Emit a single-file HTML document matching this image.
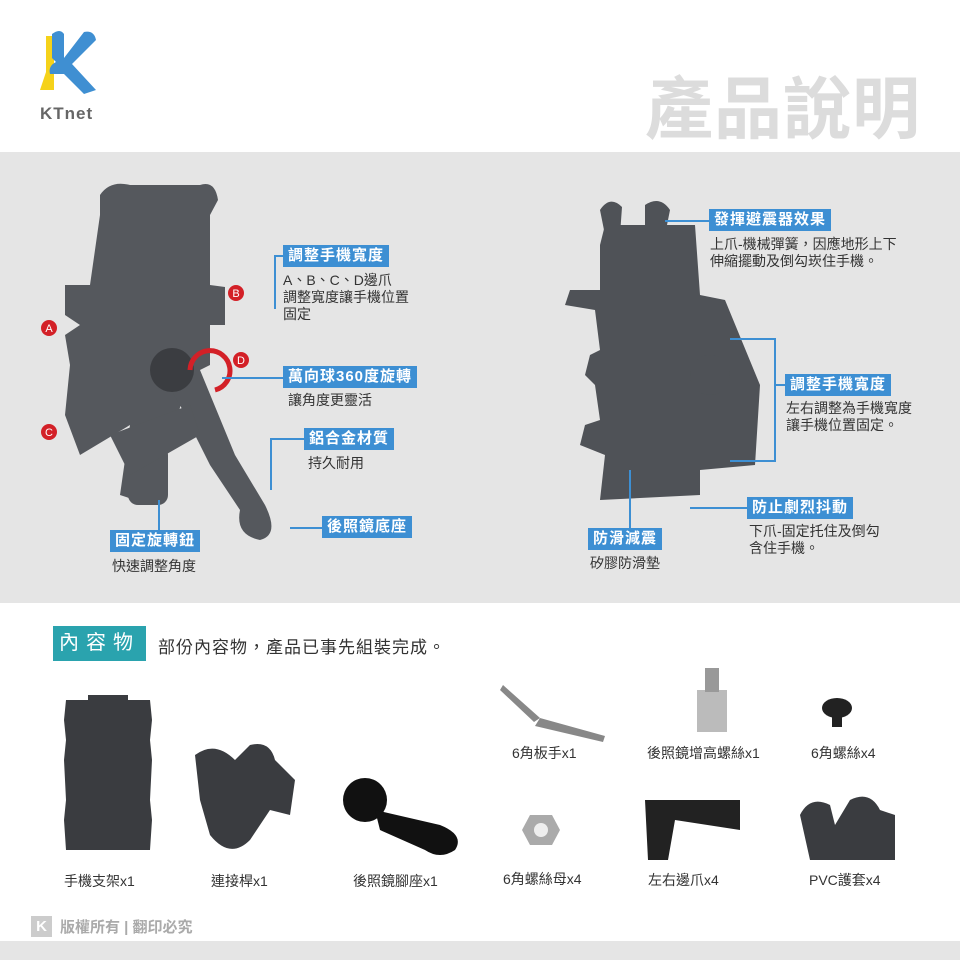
<!DOCTYPE html>
<html><head><meta charset="utf-8"><style>
body{margin:0;width:960px;height:960px;position:relative;background:#fff;overflow:hidden;font-family:"Liberation Sans","Noto Sans CJK TC",sans-serif;color:#333}
.a{position:absolute}
.lb{position:absolute;background:#3d8fd3;color:#fff;font-size:15px;font-weight:bold;padding:1px 5px;line-height:20px;white-space:nowrap;letter-spacing:1px}
.t{position:absolute;font-size:14px;line-height:17px;color:#333;white-space:nowrap}
.ln{position:absolute;border-color:#3d8fd3;border-style:solid;border-width:0}
.cap{position:absolute;font-size:14px;color:#333;white-space:nowrap}
</style></head><body>
<svg class="a" style="left:36px;top:28px" width="64" height="70" viewBox="0 0 64 70">
<path d="M10 8 L18 8 L18 62 L4 62 L10 44 Z" fill="#f5d21a"/>
<path d="M16 6 Q24 0 28 6 L28 30 L48 4 Q58 2 60 12 L36 36 L60 62 L48 66 L28 46 L14 46 Q12 38 20 34 L16 30 Z" fill="#3f8fd2"/>
</svg>
<div class="a" style="left:40px;top:104px;font-size:17px;font-weight:bold;color:#666;letter-spacing:1px">KTnet</div>
<div class="a" style="left:645px;top:70px;font-size:68px;font-weight:bold;color:#dcdcdc;letter-spacing:1px;line-height:80px">產品說明</div>
<div class="a" style="left:0;top:152px;width:960px;height:451px;background:#e5e5e5"></div>
<svg class="a" style="left:40px;top:175px" width="260" height="370" viewBox="0 0 260 370">
<g fill="#55585d">
<path d="M60 20 Q70 5 90 10 L160 10 Q175 5 178 25 L170 40 L170 110 L185 112 L185 150 L170 150 L170 190 L150 200 L110 330 L80 320 L90 250 L40 280 L25 240 L30 190 L25 160 L40 150 L25 140 L25 110 L50 110 L60 40 Z"/>
<rect x="88" y="270" width="40" height="60" rx="10"/>
<path d="M110 180 Q140 170 160 195 L195 280 L225 330 Q240 360 220 365 Q195 360 200 335 L170 290 L140 230 Z"/>
<circle cx="132" cy="195" r="22" fill="#3b3d41"/>
<path d="M70 260 L150 230 L160 260 L90 300 Z"/>
</g>
<g fill="#d32027"><circle cx="9" cy="153" r="8"/><circle cx="196" cy="118" r="8"/><circle cx="9" cy="257" r="8"/><circle cx="201" cy="185" r="8"/></g>
<g fill="#fff" font-size="11" text-anchor="middle"><text x="9" y="157">A</text><text x="196" y="122">B</text><text x="9" y="261">C</text><text x="201" y="189">D</text></g>
<path d="M150 195 a20 20 0 1 1 25 20" stroke="#d32027" stroke-width="5" fill="none"/>
</svg>
<div class="lb" style="left:283px;top:245px">調整手機寬度</div>
<div class="ln" style="left:274px;top:255px;width:9px;height:52px;border-left-width:2px;border-top-width:2px"></div>
<div class="t" style="left:283px;top:272px">A、B、C、D邊爪<br>調整寬度讓手機位置<br>固定</div>
<div class="lb" style="left:283px;top:366px">萬向球360度旋轉</div>
<div class="ln" style="left:222px;top:377px;width:61px;border-top-width:2px"></div>
<div class="t" style="left:288px;top:392px">讓角度更靈活</div>
<div class="lb" style="left:304px;top:428px">鋁合金材質</div>
<div class="ln" style="left:270px;top:438px;width:34px;height:50px;border-left-width:2px;border-top-width:2px"></div>
<div class="t" style="left:308px;top:455px">持久耐用</div>
<div class="lb" style="left:322px;top:516px">後照鏡底座</div>
<div class="ln" style="left:290px;top:527px;width:32px;border-top-width:2px"></div>
<div class="lb" style="left:110px;top:530px">固定旋轉鈕</div>
<div class="ln" style="left:158px;top:500px;height:30px;border-left-width:2px"></div>
<div class="t" style="left:112px;top:558px">快速調整角度</div>
<svg class="a" style="left:560px;top:195px" width="220" height="320" viewBox="0 0 220 320">
<g fill="#4f5257">
<path d="M45 30 L135 30 L140 100 L165 105 L200 190 L195 270 L140 275 L140 300 L40 305 L45 260 L20 250 L25 230 L40 225 L35 190 L25 180 L30 160 L40 155 L35 115 L5 110 L10 95 L40 95 L40 50 Z"/>
<path d="M40 15 Q50 0 62 12 L60 40 L45 40 Z M85 10 Q100 0 110 15 L105 40 L85 40 Z"/>
<circle cx="150" cy="180" r="20"/>
</g>
</svg>
<div class="lb" style="left:709px;top:209px">發揮避震器效果</div>
<div class="ln" style="left:665px;top:220px;width:44px;border-top-width:2px"></div>
<div class="t" style="left:710px;top:236px">上爪-機械彈簧，因應地形上下<br>伸縮擺動及倒勾崁住手機。</div>
<div class="lb" style="left:785px;top:374px">調整手機寬度</div>
<div class="ln" style="left:730px;top:338px;width:44px;height:120px;border-right-width:2px;border-top-width:2px;border-bottom-width:2px"></div>
<div class="ln" style="left:774px;top:384px;width:11px;border-top-width:2px"></div>
<div class="t" style="left:786px;top:400px">左右調整為手機寬度<br>讓手機位置固定。</div>
<div class="lb" style="left:747px;top:497px">防止劇烈抖動</div>
<div class="ln" style="left:690px;top:507px;width:57px;border-top-width:2px"></div>
<div class="t" style="left:749px;top:523px">下爪-固定托住及倒勾<br>含住手機。</div>
<div class="lb" style="left:588px;top:528px">防滑減震</div>
<div class="ln" style="left:629px;top:470px;height:58px;border-left-width:2px"></div>
<div class="t" style="left:590px;top:555px">矽膠防滑墊</div>
<div class="a" style="left:53px;top:626px;width:93px;height:35px;background:#2aa3ae;color:#fff;font-size:20px;line-height:35px;text-align:center;letter-spacing:7px">內容物</div>
<div class="a" style="left:158px;top:633px;font-size:17px;letter-spacing:1px;color:#333">部份內容物，產品已事先組裝完成。</div>
<svg class="a" style="left:0;top:660px" width="960" height="210" viewBox="0 0 960 210">
<g fill="#3a3c40">
<path d="M66 40 L150 40 L152 60 L150 80 L152 100 L150 140 L152 160 L150 190 L66 190 L64 160 L66 140 L64 100 L66 80 L64 60 Z"/>
<rect x="88" y="35" width="40" height="10"/>
<path d="M195 95 Q215 80 235 100 L250 85 Q270 80 275 100 L295 120 L290 155 L270 150 L250 180 Q230 200 210 175 L200 140 Z"/>
<circle cx="365" cy="140" r="22" fill="#111"/>
<path d="M375 150 L440 165 Q465 175 455 190 Q440 200 425 190 L380 170 Z" fill="#111"/>
<path d="M540 58 L605 76 L603 82 L535 66 Z M503 25 L540 58 L534 62 L500 30 Z" fill="#888"/>
<rect x="697" y="30" width="30" height="42" fill="#bbb"/><rect x="705" y="8" width="14" height="24" fill="#999"/>
<ellipse cx="837" cy="48" rx="15" ry="10" fill="#222"/><rect x="832" y="55" width="10" height="12" fill="#222"/>
<polygon points="530,155 552,155 560,170 552,185 530,185 522,170" fill="#aaa"/><circle cx="541" cy="170" r="7" fill="#eee"/>
<path d="M645 140 L670 140 L740 140 L740 170 L675 160 L668 200 L648 200 Z" fill="#222"/>
<path d="M800 155 Q810 135 830 145 L835 165 L850 140 Q870 130 880 150 L895 155 L895 200 L810 200 Z"/>
</g>
</svg>
<div class="cap" style="left:64px;top:871px">手機支架x1</div>
<div class="cap" style="left:211px;top:871px">連接桿x1</div>
<div class="cap" style="left:353px;top:871px">後照鏡腳座x1</div>
<div class="cap" style="left:512px;top:743px">6角板手x1</div>
<div class="cap" style="left:647px;top:743px">後照鏡增高螺絲x1</div>
<div class="cap" style="left:811px;top:743px">6角螺絲x4</div>
<div class="cap" style="left:503px;top:869px">6角螺絲母x4</div>
<div class="cap" style="left:648px;top:870px">左右邊爪x4</div>
<div class="cap" style="left:809px;top:870px">PVC護套x4</div>
<div class="a" style="left:31px;top:916px;width:21px;height:21px;background:#ccc;color:#fff;font-weight:bold;text-align:center;line-height:21px;font-size:15px">K</div>
<div class="a" style="left:60px;top:916px;font-size:15px;color:#aaa;font-weight:bold">版權所有 | 翻印必究</div>
<div class="a" style="left:0;top:941px;width:960px;height:19px;background:#e5e5e5"></div>
</body></html>
